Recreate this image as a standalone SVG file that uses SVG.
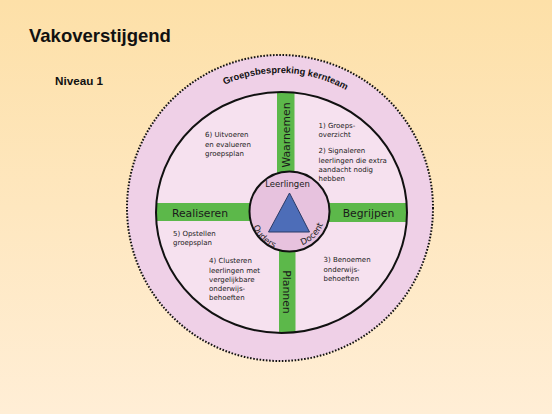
<svg xmlns="http://www.w3.org/2000/svg" width="552" height="414" viewBox="0 0 552 414">
<defs>
<linearGradient id="bg" x1="0" y1="0" x2="0" y2="1">
<stop offset="0" stop-color="#fde0a8"/>
<stop offset="1" stop-color="#ffeed6"/>
</linearGradient>
<clipPath id="innerClip"><ellipse cx="281.5" cy="212.5" rx="125.5" ry="120.5"/></clipPath>
<path id="arcTop" d="M160.2,145.6 A135,135 0 0 1 404.7,156.3"/>
<path id="arcOuders" d="M250,211.5 A39.5,39.5 0 0 0 289.5,251"/>
<path id="arcDocent" d="M289.5,247.5 A36,36 0 0 0 325.5,211.5"/>
</defs>
<style>
.title{font-family:"Liberation Sans",Arial,sans-serif;font-weight:bold;fill:#111}
.bar{fill:#5cb84a}
.barTxt{font-family:"DejaVu Sans",Verdana,sans-serif;font-size:10.8px;fill:#1a1a1a}
.body{font-family:"DejaVu Sans",Verdana,sans-serif;font-size:7px;fill:#1a1a1a}
.ctr{font-family:"DejaVu Sans",Verdana,sans-serif;font-size:8.5px;fill:#1a1a1a}
</style>
<rect x="0" y="0" width="552" height="414" fill="url(#bg)"/>
<text class="title" x="29" y="42" font-size="18.5">Vakoverstijgend</text>
<text class="title" x="55" y="85" font-size="11.7">Niveau 1</text>

<g id="outer-ring">
<circle cx="280" cy="208" r="153" fill="#efd0e7" stroke="#111" stroke-width="2" stroke-dasharray="1.6 1.6"/>
<text font-family="'Liberation Sans',Arial,sans-serif" font-weight="bold" font-size="9.3" fill="#111" text-anchor="middle"><textPath href="#arcTop" startOffset="50%">Groepsbespreking kernteam</textPath></text>
</g>

<g id="inner-circle">
<ellipse cx="281.5" cy="212.5" rx="125.5" ry="120.5" fill="#f6e1ef"/>
</g>

<g clip-path="url(#innerClip)">
<g id="waarnemen">
<rect class="bar" x="277" y="80" width="17.5" height="100"/>
<text class="barTxt" transform="translate(290,135) rotate(-90)" text-anchor="middle">Waarnemen</text>
</g>
<g id="plannen">
<rect class="bar" x="279" y="245" width="16.5" height="100"/>
<text class="barTxt" transform="translate(283,292) rotate(90)" text-anchor="middle">Plannen</text>
</g>
<g id="realiseren">
<rect class="bar" x="145" y="203" width="110" height="18"/>
<text class="barTxt" x="200" y="216.5" text-anchor="middle">Realiseren</text>
</g>
<g id="begrijpen">
<rect class="bar" x="320" y="203" width="100" height="19"/>
<text class="barTxt" x="368.5" y="216.5" text-anchor="middle">Begrijpen</text>
</g>
</g>
<ellipse cx="281.5" cy="212.5" rx="125.5" ry="120.5" fill="none" stroke="#111" stroke-width="2"/>

<g id="step6">
<text class="body" x="205" y="137">6) Uitvoeren</text>
<text class="body" x="205" y="146.5">en evalueren</text>
<text class="body" x="205" y="156">groepsplan</text>
</g>
<g id="step1-2">
<text class="body" x="318.5" y="128">1) Groeps-</text>
<text class="body" x="318.5" y="137.3">overzicht</text>
<text class="body" x="318.5" y="153.3">2) Signaleren</text>
<text class="body" x="318.5" y="162.5">leerlingen die extra</text>
<text class="body" x="318.5" y="171.7">aandacht nodig</text>
<text class="body" x="318.5" y="180.8">hebben</text>
</g>
<g id="step5">
<text class="body" x="173" y="236">5) Opstellen</text>
<text class="body" x="173" y="245">groepsplan</text>
</g>
<g id="step4">
<text class="body" x="209" y="263.3">4) Clusteren</text>
<text class="body" x="209" y="272.5">leerlingen met</text>
<text class="body" x="209" y="281.7">vergelijkbare</text>
<text class="body" x="209" y="291">onderwijs-</text>
<text class="body" x="209" y="300">behoeften</text>
</g>
<g id="step3">
<text class="body" x="323.5" y="262.3">3) Benoemen</text>
<text class="body" x="323.5" y="271.6">onderwijs-</text>
<text class="body" x="323.5" y="280.7">behoeften</text>
</g>

<g id="center">
<circle cx="289.5" cy="211.5" r="40" fill="#e7c2de" stroke="#111" stroke-width="2"/>
<polygon points="289.5,193 268.5,232 309.5,232" fill="#4d6db8" stroke="#2a3a66" stroke-width="1"/>
<text class="ctr" x="287.5" y="187" text-anchor="middle">Leerlingen</text>
<text class="ctr" text-anchor="middle"><textPath href="#arcOuders" startOffset="50%">Ouders</textPath></text>
<text class="ctr" text-anchor="middle"><textPath href="#arcDocent" startOffset="50%">Docent</textPath></text>
</g>
</svg>
